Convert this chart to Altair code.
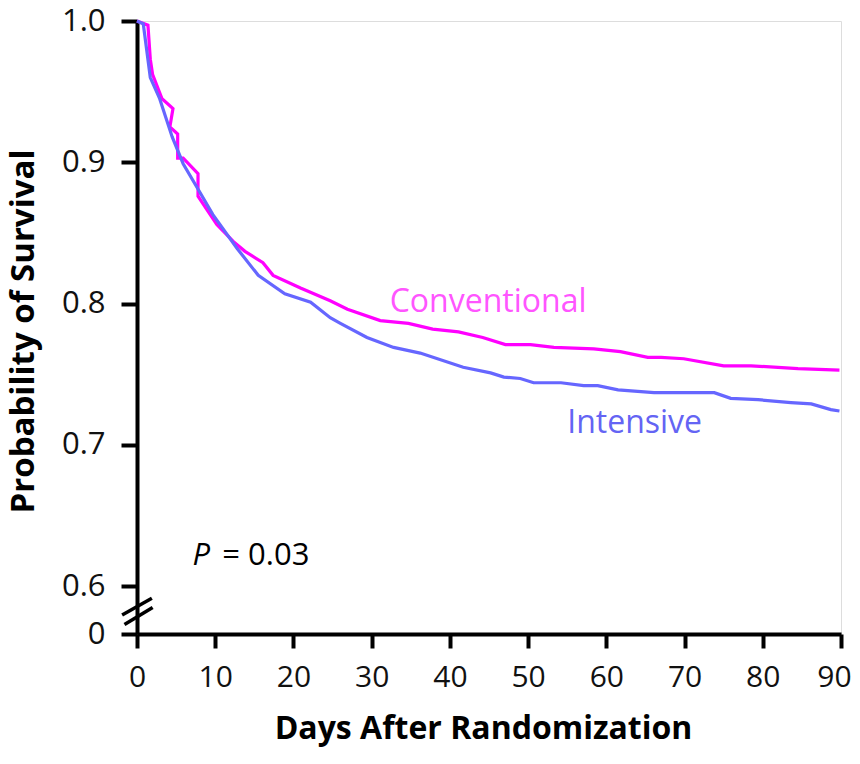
import altair as alt
import pandas as pd

conv_days = [0, 1.4, 1.7, 2.0, 3.2, 4.6, 4.2, 5.2, 5.2, 5.9, 7.8, 7.8, 10.2, 12.3, 13.8,
             16.1, 17.4, 20.9, 24.7, 26.9, 31.1, 34.7, 37.8, 41.1, 44.2, 47.1, 50.3,
             53.3, 58.4, 61.8, 65.3, 67.0, 69.9, 75.0, 78.5, 84.5, 89.8]
conv_vals = [1.0, 0.997, 0.973, 0.962, 0.945, 0.938, 0.925, 0.920, 0.903, 0.903, 0.892,
             0.876, 0.856, 0.844, 0.837, 0.829, 0.820, 0.811, 0.802, 0.796, 0.788, 0.786,
             0.782, 0.780, 0.776, 0.771, 0.771, 0.769, 0.768, 0.766, 0.762, 0.762, 0.761,
             0.756, 0.756, 0.754, 0.753]

int_days = [0, 0.8, 1.7, 2.9, 4.5, 5.9, 7.7, 9.7, 12.8, 15.5, 18.9, 22.2, 24.7, 26.0,
            29.4, 32.8, 36.2, 41.7, 45.2, 46.9, 49.0, 50.7, 54.2, 57.1, 58.9, 61.5, 66.1,
            73.8, 75.9, 79.4, 83.6, 86.2, 88.7, 89.8]
int_vals = [1.0, 0.998, 0.960, 0.945, 0.918, 0.899, 0.882, 0.863, 0.839, 0.820, 0.807,
            0.801, 0.790, 0.786, 0.776, 0.769, 0.765, 0.755, 0.751, 0.748, 0.747, 0.744,
            0.744, 0.742, 0.742, 0.739, 0.737, 0.737, 0.733, 0.732, 0.730, 0.729, 0.725,
            0.724]

# Series labels
label_text = ["Conventional", "Intensive"]
label_day = [32.3, 55.0]
label_val = [0.7938, 0.7084]
label_color = ["#ff55ff", "#6464f4"]

# Axis ticks
x_ticks = [0, 10, 20, 30, 40, 50, 60, 70, 80, 90]
y_bottom = 0.5662  # broken-axis bottom, labelled "0"
y_ticks = [y_bottom, 0.6, 0.7, 0.8, 0.9, 1.0]

# Axis-break slashes (data units)
brk_x = [-1.9, -1.6]
brk_x2 = [1.9, 2.0]
brk_y = [0.5796, 0.5730]
brk_y2 = [0.5915, 0.5850]

rows = []
for i, (d, v) in enumerate(zip(conv_days, conv_vals)):
    rows.append({"day": d, "surv": v, "group": "Conventional", "ord": i})
for i, (d, v) in enumerate(zip(int_days, int_vals)):
    rows.append({"day": d, "surv": v, "group": "Intensive", "ord": i})
df = pd.DataFrame(rows)

xscale = alt.Scale(domain=[0, 90], nice=False, zero=False)
yscale = alt.Scale(domain=[y_bottom, 1.0], nice=False, zero=False)

FONT = "Open Sans"

lines = alt.Chart(df).mark_line(strokeWidth=3.2, clip=False).encode(
    x=alt.X("day:Q", scale=xscale,
            axis=alt.Axis(values=x_ticks, title="Days After Randomization",
                          titleFontSize=32, titleFont=FONT, titleFontWeight="bold",
                          titleColor="#000", titleBaseline="alphabetic", titleY=104,
                          titleX=346, titleAnchor="middle",
                          labelFontSize=30, labelFont=FONT, labelColor="#111",
                          labelPadding=14, tickSize=14, tickWidth=4, tickColor="#000",
                          labelOffset=alt.condition("datum.value == 90", alt.value(-7), alt.value(0)),
                          domainWidth=4, domainColor="#000", grid=False, labelFlush=False)),
    y=alt.Y("surv:Q", scale=yscale,
            axis=alt.Axis(values=y_ticks, title="Probability of Survival",
                          labelExpr="datum.value < 0.59 ? '0' : format(datum.value, '.1f')",
                          titleFontSize=33, titleFont=FONT, titleFontWeight="bold",
                          titleColor="#000", titleBaseline="alphabetic", titleX=-104,
                          titleY=310, titleAnchor="middle",
                          labelFontSize=31, labelFont=FONT, labelColor="#111",
                          labelPadding=16, tickSize=16, tickWidth=4, tickColor="#000",
                          domainWidth=4, domainColor="#000", grid=False, labelFlush=False)),
    color=alt.Color("group:N",
                    scale=alt.Scale(domain=["Conventional", "Intensive"],
                                    range=["#ff00ff", "#6666ff"]),
                    legend=None),
    order="ord:Q",
)

lab_df = pd.DataFrame({"text": label_text, "day": label_day, "surv": label_val,
                       "col": label_color})
labels = alt.Chart(lab_df).mark_text(align="left", baseline="alphabetic", fontSize=32,
                                      font=FONT).encode(
    x=alt.X("day:Q", scale=xscale),
    y=alt.Y("surv:Q", scale=yscale),
    text="text:N",
    color=alt.Color("col:N", scale=None),
)

p_df = pd.DataFrame({"text": ["P"], "day": [7.1], "surv": [0.615]})
p_italic = alt.Chart(p_df).mark_text(align="left", baseline="alphabetic", fontSize=31,
                                      font=FONT, fontStyle="italic", color="#000").encode(
    x=alt.X("day:Q", scale=xscale), y=alt.Y("surv:Q", scale=yscale), text="text:N")
p2_df = pd.DataFrame({"text": ["= 0.03"], "day": [10.9], "surv": [0.615]})
p_rest = alt.Chart(p2_df).mark_text(align="left", baseline="alphabetic", fontSize=31,
                                     font=FONT, color="#000").encode(
    x=alt.X("day:Q", scale=xscale), y=alt.Y("surv:Q", scale=yscale), text="text:N")

brk_df = pd.DataFrame({"x": brk_x, "x2": brk_x2, "y": brk_y, "y2": brk_y2})
breaks = alt.Chart(brk_df).mark_rule(strokeWidth=3.5, color="#000", clip=False).encode(
    x=alt.X("x:Q", scale=xscale), x2="x2:Q",
    y=alt.Y("y:Q", scale=yscale), y2="y2:Q")

chart = alt.layer(lines, breaks, labels, p_italic, p_rest).properties(
    width=704, height=613,
    padding={"left": 129, "top": 13, "right": 11, "bottom": 114},
    autosize=alt.AutoSizeParams(type="none"),
).configure_view(stroke=None).configure(background="white")

chart.save("out.html", embed_options={"renderer": "svg", "actions": False})
